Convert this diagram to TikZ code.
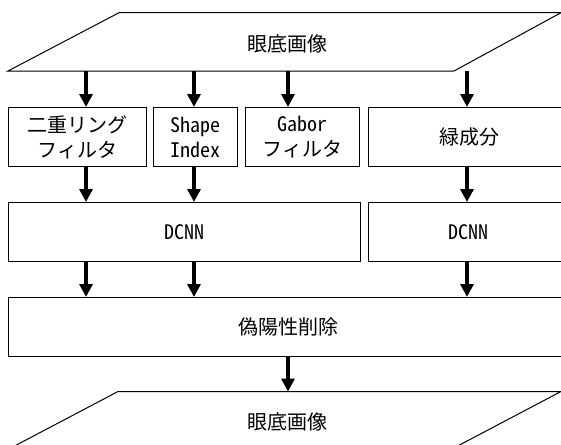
\documentclass[tikz,border=0pt]{standalone}
\usepackage{fontspec}
\setmainfont{Noto Sans CJK JP}[RawFeature=+hwid]
\usetikzlibrary{arrows.meta}
\tikzset{
  box/.style={draw, line width=1pt, inner sep=0pt, align=center, anchor=north west,
    font=\fontsize{20}{25}\selectfont},
  lbl/.style={inner sep=0pt, font=\fontsize{20}{25}\selectfont},
  para/.style={draw, line width=1pt, line join=miter},
  arr/.style={line width=3.6pt, -{Triangle[width=13pt,length=13pt]}}
}
\begin{document}
\begin{tikzpicture}[x=1pt,y=-1pt]
\useasboundingbox (0,0) rectangle (561,444);
\clip (0,0) rectangle (561,444);
% column positions of the arrows
\coordinate (c1) at (86,0);
\coordinate (c2) at (194,0);
\coordinate (c3) at (288,0);
\coordinate (c4) at (467,0);
% top image
\draw[para] (8,71) -- (119,12.7) -- (561,12.7) -- (454,71) -- cycle;
\coordinate (imgtopB) at (0,71);
\node[lbl] (imgtop) at (287,44) {眼底画像};
% row 1
\node[box, minimum width=138pt, minimum height=59pt] (b1) at (8,107) {二重リング\\フィルタ};
\node[box, minimum width=84pt, minimum height=59pt] (b2) at (153,107) {Shape\\Index};
\node[box, minimum width=114pt, minimum height=59pt] (b3) at (245,107) {Gabor\\フィルタ};
\node[box, minimum width=202pt, minimum height=59pt] (b4) at (368,107) {緑成分};
% row 2
\node[box, minimum width=352pt, minimum height=59pt] (d1) at (8,202) {DCNN};
\node[box, minimum width=200pt, minimum height=59pt] (d2) at (368,202) {DCNN};
% row 3
\node[box, minimum width=560pt, minimum height=59pt] (f) at (8,297) {偽陽性削除};
% bottom image
\draw[para] (118,391.5) -- (561,391.5) -- (450,450) -- (7,450) -- cycle;
\coordinate (imgbotT) at (0,391.5);
\node[lbl] (imgbot) at (287,422) {眼底画像};
% arrows
\draw[arr] (imgtopB -| c1) -- (b1.north -| c1);
\draw[arr] (imgtopB -| c2) -- (b2.north -| c2);
\draw[arr] (imgtopB -| c3) -- (b3.north -| c3);
\draw[arr] (imgtopB -| c4) -- (b4.north -| c4);
\draw[arr] (b1.south -| c1) -- (d1.north -| c1);
\draw[arr] (b2.south -| c2) -- (d1.north -| c2);
\draw[arr] (b4.south -| c4) -- (d2.north -| c4);
\draw[arr] (d1.south -| c1) -- (f.north -| c1);
\draw[arr] (d1.south -| c2) -- (f.north -| c2);
\draw[arr] (d2.south -| c4) -- (f.north -| c4);
\draw[arr] (f.south -| c3) -- (imgbotT -| c3);
\end{tikzpicture}
\end{document}
